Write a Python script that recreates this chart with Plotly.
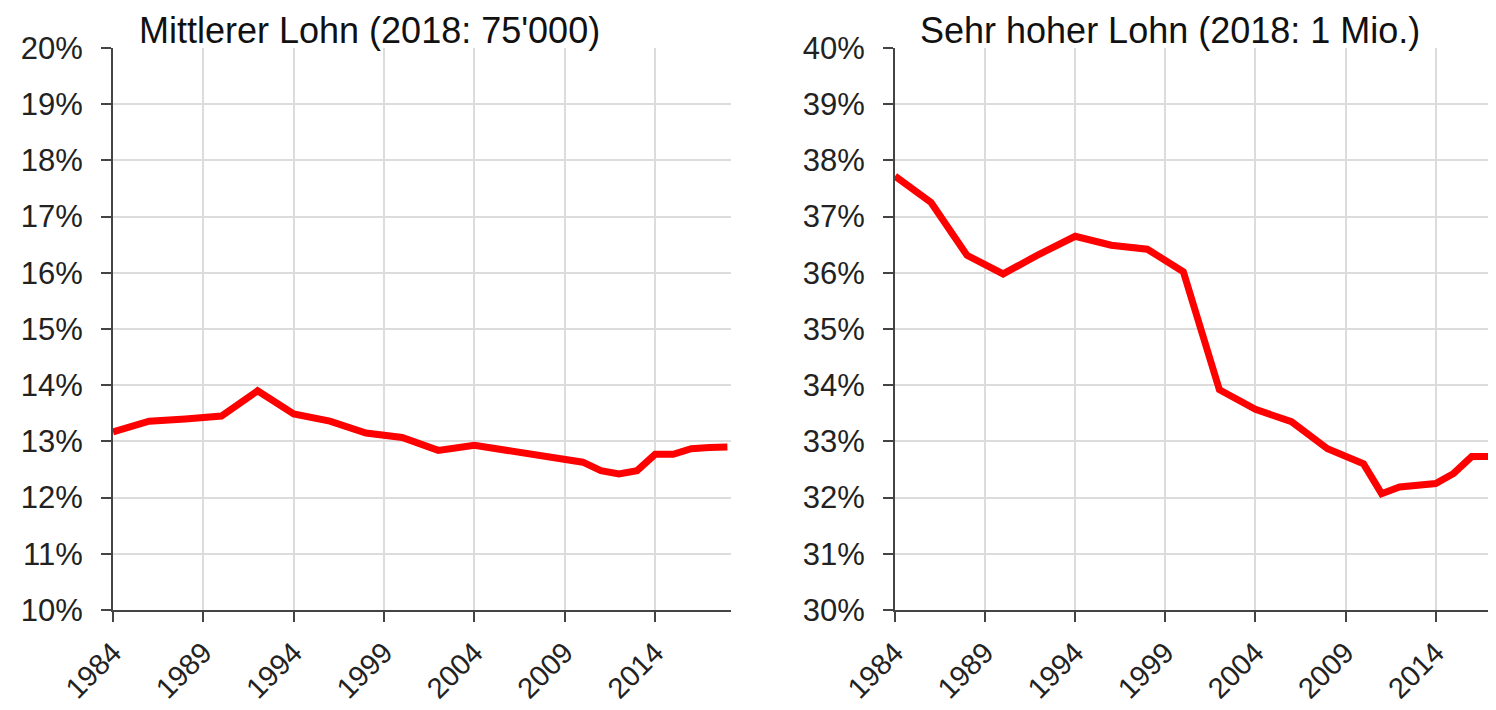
import plotly.graph_objects as go
from plotly.subplots import make_subplots

# Mittlerer Lohn (2018: 75'000)
years_mid = [1984, 1986, 1988, 1990, 1992, 1994, 1996, 1998, 2000, 2002, 2004,
             2006, 2008, 2010, 2011, 2012, 2013, 2014, 2015, 2016, 2017, 2018]
share_mid = [13.17, 13.36, 13.40, 13.45, 13.90, 13.49, 13.36, 13.15, 13.07, 12.84, 12.93,
             12.83, 12.70, 12.63, 12.48, 12.42, 12.48, 12.77, 12.77, 12.87, 12.89, 12.90]

# Sehr hoher Lohn (2018: 1 Mio.)
years_high = [1984, 1986, 1988, 1990, 1992, 1994, 1996, 1998, 2000, 2002, 2004,
              2006, 2008, 2010, 2011, 2012, 2014, 2015, 2016, 2017, 2018]
share_high = [37.72, 37.25, 36.31, 35.98, 36.33, 36.65, 36.49, 36.42, 36.02, 33.92, 33.57,
              33.35, 32.87, 32.60, 32.07, 32.19, 32.25, 32.43, 32.73, 32.73, 32.73]

titles = ["Mittlerer Lohn (2018: 75'000)", "Sehr hoher Lohn (2018: 1 Mio.)"]
x_ticks = [1984, 1989, 1994, 1999, 2004, 2009, 2014]
# horizontal grid lines (no line on the top edge)
grid_mid = [11, 12, 13, 14, 15, 16, 17, 18, 19]
grid_high = [31, 32, 33, 34, 35, 36, 37, 38, 39]

# page body adds an 8px offset, so the figure is 8px smaller each way
W, H = 1488, 702
OFF = 8
font = "Liberation Sans, Arial, sans-serif"

fig = make_subplots(rows=1, cols=2)

fig.add_trace(go.Scatter(x=years_mid, y=share_mid, mode="lines",
                         line=dict(color="#ff0000", width=7)), row=1, col=1)
fig.add_trace(go.Scatter(x=years_high, y=share_high, mode="lines",
                         line=dict(color="#ff0000", width=7)), row=1, col=2)

axis_common = dict(
    showline=True, linecolor="#444444", linewidth=2,
    ticks="outside", ticklen=10, tickwidth=2, tickcolor="#444444",
    gridcolor="#dcdcdc", gridwidth=2,
    zeroline=False, automargin=False,
)

fig.update_xaxes(tickvals=x_ticks, tickangle=-45, ticklabelstandoff=2, showgrid=True,
                 tickfont=dict(family=font, size=29, color="#222222"), **axis_common)
fig.update_xaxes(domain=[(113 - OFF) / W, (731 - OFF) / W], range=[1984, 2018.2], row=1, col=1)
fig.update_xaxes(domain=[(895 - OFF) / W, 1.0], range=[1984, 2017.35], row=1, col=2)

fig.update_yaxes(dtick=1, ticksuffix="%", ticklabelstandoff=12, showgrid=False,
                 tickfont=dict(family=font, size=31, color="#222222"), **axis_common)
fig.update_yaxes(range=[10, 20], row=1, col=1,
                 minor=dict(tickmode="array", tickvals=grid_mid, showgrid=True,
                            gridcolor="#dcdcdc", gridwidth=2, ticks=""))
fig.update_yaxes(range=[30, 40], row=1, col=2,
                 minor=dict(tickmode="array", tickvals=grid_high, showgrid=True,
                            gridcolor="#dcdcdc", gridwidth=2, ticks=""))

annotations = []
for t, x0 in zip(titles, [137, 918]):
    annotations.append(dict(
        text=t, xref="paper", yref="paper", x=(x0 - OFF) / W, y=1, yshift=18,
        xanchor="left", yanchor="middle", showarrow=False,
        font=dict(family=font, size=36, color="#111111"),
    ))

fig.update_layout(
    width=W, height=H,
    margin=dict(l=0, r=0, t=48 - OFF, b=100),
    paper_bgcolor="white", plot_bgcolor="white",
    showlegend=False,
    annotations=annotations,
)

fig.write_html("out.html")
